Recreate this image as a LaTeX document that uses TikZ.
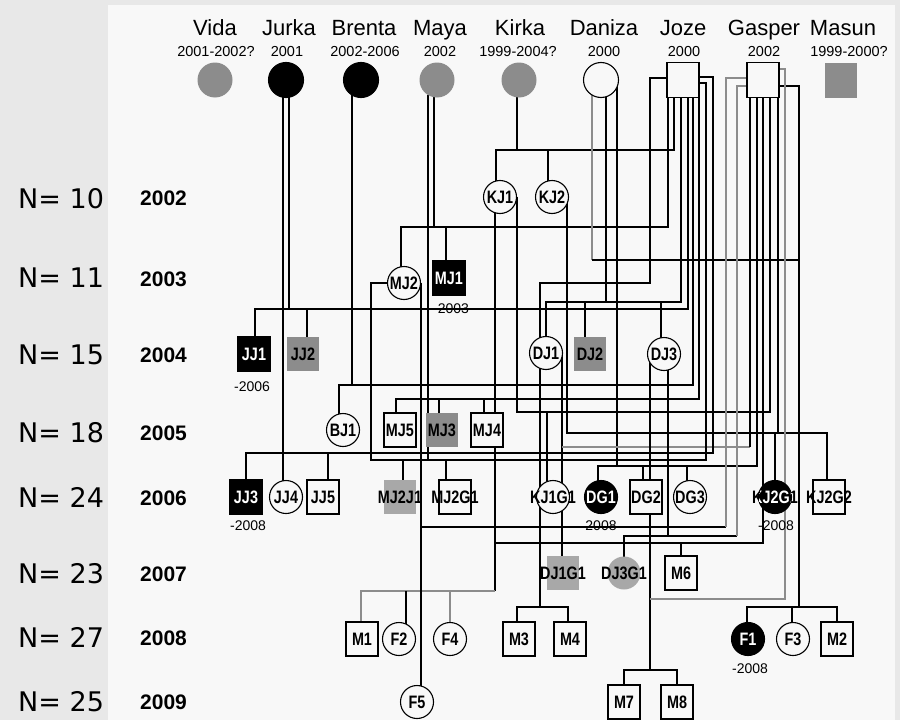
\documentclass[tikz,border=0pt]{standalone}
\usepackage{fontspec}
\setmainfont{Liberation Sans}
\newfontfamily\lab[FakeStretch=0.8]{Liberation Sans}
\newfontfamily\nfont{DejaVu Sans}
\definecolor{bgL}{HTML}{E8E8E8}
\definecolor{panel}{HTML}{F8F8F8}
\definecolor{gline}{HTML}{8C8C8C}
\definecolor{gfill}{HTML}{8C8C8C}
\definecolor{lfill}{HTML}{A8A8A8}
\tikzset{
 ln/.style={line width=1.2pt, black},
 gl/.style={line width=1.2pt, gline},
 sq/.style={rectangle, draw=black, line width=1.2pt, fill=panel, minimum width=32pt, minimum height=34pt, inner sep=0pt},
 ci/.style={circle, draw=black, line width=1.1pt, fill=panel, minimum size=33pt, inner sep=0pt},
 fci/.style={ci, minimum size=35pt},
 lbl/.style={font=\lab\bfseries\fontsize{18}{18}\selectfont, inner sep=0pt},
 lblw/.style={lbl, text=white},
 nm/.style={font=\fontsize{22}{22}\selectfont, anchor=base, inner sep=0pt},
 yr/.style={font=\fontsize{14.5}{14.5}\selectfont, anchor=base, inner sep=0pt},
 nl/.style={font=\nfont\fontsize{27}{27}\selectfont, anchor=base west, inner sep=0pt},
 rl/.style={font=\bfseries\fontsize{21}{21}\selectfont, anchor=base west, inner sep=0pt},
 dl/.style={font=\fontsize{14}{14}\selectfont, inner sep=0pt},
}
\begin{document}
\begin{tikzpicture}[x=1pt,y=-1pt]
\useasboundingbox (0,0) rectangle (900,720);
\fill[bgL] (0,0) rectangle (900,720);
\fill[panel] (108,5) rectangle (895,720);

% ---------- connectors ----------
% Jurka
\draw[ln] (283,95) -- (283,497);
\draw[ln] (289,95) -- (289,309);
\draw[ln] (255,354) |- (688,309) -- (688,97);
\draw[ln] (307,354) -- (307,309);
% Brenta x Joze
\draw[ln] (352,95) -- (352,385);
\draw[ln] (339,430) |- (693,385) -- (693,97);
% Maya x Joze
\draw[ln] (434,95) -- (434,227);
\draw[ln] (401,283) |- (668,227) -- (668,97);
\draw[ln] (446,278) -- (446,227);
\draw[ln] (428,95) -- (428,460);
\draw[ln] (396,430) |- (699,399) -- (699,97);
\draw[ln] (439,430) -- (439,399);
\draw[ln] (484,430) -- (484,399);
% Kirka x Joze
\draw[ln] (517,95) -- (517,150);
\draw[ln] (496,197) |- (674,150) -- (674,97);
\draw[ln] (548,197) -- (548,150);
% KJ1
\draw[ln] (495,197) -- (495,591);
\draw[gl] (495,591) -| (361,639);
\draw[ln] (406,591) -- (406,639);
\draw[gl] (450,591) -- (450,639);
\draw[ln] (517,197) |- (770,412) -- (770,97);
\draw[ln] (547,412) -- (547,497);
% KJ2 x Gasper
\draw[ln] (567,197) |- (827,433) -- (827,497);
\draw[ln] (775,433) -- (775,497);
\draw[ln] (778,97) -- (778,433);
\draw[ln] (779,86) -| (799,607);
\draw[ln] (747,639) |- (837,607) -- (837,639);
\draw[ln] (792,607) -- (792,639);
% Daniza
\draw[gl] (592,92) -- (592,260);
\draw[ln] (592,260) -- (799,260);
\draw[ln] (606,95) -- (606,302);
\draw[ln] (546,353) |- (681,302) -- (681,97);
\draw[ln] (585,354) -- (585,302);
\draw[ln] (661,354) -- (661,302);
\draw[ln] (617,80) -- (617,466);
\draw[ln] (598,497) |- (757,466) -- (757,97);
\draw[ln] (643,497) -- (643,466);
\draw[ln] (687,497) -- (687,466);
% Joze left
\draw[ln] (667,78) -| (650,283) -| (540,607);
\draw[ln] (517,639) |- (568,607) -- (568,639);
% DJ1 x Gasper
\draw[ln] (562,353) -- (562,573);
\draw[gl] (562,447) -- (750,447);
\draw[ln] (750,447) -- (750,97);
% DJ3 x Gasper
\draw[ln] (650,354) -- (650,670);
\draw[ln] (624,702) |- (677,670) -- (677,702);
\draw[gl] (650,599) -| (785,69) -- (779,69);
\draw[ln] (668,354) -- (668,536);
\draw[ln] (624,573) |- (737,536);
\draw[gl] (737,536) |- (747,86);
% MJ2 x Gasper
\draw[ln] (421,283) -- (421,702);
\draw[ln] (421,527) -- (726,527);
\draw[gl] (726,527) |- (747,78);
% M6
\draw[ln] (495,543) -- (763,543) -- (763,97);
\draw[ln] (681,543) -- (681,573);
% Joze right lines
\draw[ln] (699,77) -| (713,453) -- (246,453) -- (246,497);
\draw[ln] (328,453) -- (328,497);
\draw[ln] (699,83) -| (706,460) -- (371,460) |- (404,283);
\draw[ln] (403,460) -- (403,497);
\draw[ln] (446,460) -- (446,497);

% ---------- founders ----------
\node[fci,fill=gfill,draw=none] (Vida) at (215,80) {};
\node[fci,fill=black] (Jurka) at (286,80) {};
\node[fci,fill=black] (Brenta) at (361,80) {};
\node[fci,fill=gfill,draw=none] (Maya) at (437,80) {};
\node[fci,fill=gfill,draw=none] (Kirka) at (519,80) {};
\node[fci] (Daniza) at (601,80) {};
\node[sq,minimum height=35pt] (Joze) at (683,80) {};
\node[sq,minimum height=35pt] (Gasper) at (763,80) {};
\node[sq,minimum height=35pt,fill=gfill,draw=none] (Masun) at (841,80) {};

\node[nm] (tVida) at (215,35) {Vida};
\node[nm] (tJurka) at (289,35) {Jurka};
\node[nm] (tBrenta) at (364,35) {Brenta};
\node[nm] (tMaya) at (440,35) {Maya};
\node[nm] (tKirka) at (520,35) {Kirka};
\node[nm] (tDaniza) at (604,35) {Daniza};
\node[nm] (tJoze) at (683,35) {Joze};
\node[nm] (tGasper) at (764,35) {Gasper};
\node[nm] (tMasun) at (843,35) {Masun};

\node[yr] (yVida) at (216,56) {2001-2002?};
\node[yr] (yJurka) at (287,56) {2001};
\node[yr] (yBrenta) at (365,56) {2002-2006};
\node[yr] (yMaya) at (440,56) {2002};
\node[yr] (yKirka) at (518,56) {1999-2004?};
\node[yr] (yDaniza) at (604,56) {2000};
\node[yr] (yJoze) at (684,56) {2000};
\node[yr] (yGasper) at (764,56) {2002};
\node[yr] (yMasun) at (849,56) {1999-2000?};

% ---------- row labels ----------
\node[nl] (n02) at (18,208) {N= 10};
\node[nl] (n03) at (18,287) {N= 11};
\node[nl] (n04) at (18,364) {N= 15};
\node[nl] (n05) at (18,442) {N= 18};
\node[nl] (n06) at (18,507) {N= 24};
\node[nl] (n07) at (18,583) {N= 23};
\node[nl] (n08) at (18,647) {N= 27};
\node[nl] (n09) at (18,711) {N= 25};
\node[rl] (r02) at (140,205) {2002};
\node[rl] (r03) at (140,286) {2003};
\node[rl] (r04) at (140,362) {2004};
\node[rl] (r05) at (140,440) {2005};
\node[rl] (r06) at (140,505) {2006};
\node[rl] (r07) at (140,581) {2007};
\node[rl] (r08) at (140,645) {2008};
\node[rl] (r09) at (140,709) {2009};

% ---------- 2002 ----------
\node[ci,label={[lbl]center:KJ1}] (KJ1) at (500,197) {};
\node[ci,label={[lbl]center:KJ2}] (KJ2) at (552,197) {};
% ---------- 2003 ----------
\node[ci,label={[lbl]center:MJ2}] (MJ2) at (404,283) {};
\node[sq,fill=black,label={[lblw]center:MJ1}] (MJ1) at (449,278) {};
\node[dl] (dMJ1) at (451,309) {-2003};
% ---------- 2004 ----------
\node[sq,fill=black,label={[lblw]center:JJ1}] (JJ1) at (254,354) {};
\node[dl] (dJJ1) at (252,387) {-2006};
\node[sq,fill=gfill,draw=none,label={[lbl]center:JJ2}] (JJ2) at (303,354) {};
\node[ci,label={[lbl]center:DJ1}] (DJ1) at (546,353) {};
\node[sq,fill=gfill,draw=none,label={[lbl]center:DJ2}] (DJ2) at (590,354) {};
\node[ci,label={[lbl]center:DJ3}] (DJ3) at (664,354) {};
% ---------- 2005 ----------
\node[ci,label={[lbl]center:BJ1}] (BJ1) at (343,430) {};
\node[sq,label={[lbl]center:MJ5}] (MJ5) at (400,430) {};
\node[sq,fill=gfill,draw=none,label={[lbl]center:MJ3}] (MJ3) at (442,430) {};
\node[sq,label={[lbl]center:MJ4}] (MJ4) at (487,430) {};
% ---------- 2006 ----------
\node[sq,fill=black,label={[lblw]center:JJ3}] (JJ3) at (246,497) {};
\node[dl] (dJJ3) at (248,526) {-2008};
\node[ci,label={[lbl]center:JJ4}] (JJ4) at (286,497) {};
\node[sq,label={[lbl]center:JJ5}] (JJ5) at (323,497) {};
\node[sq,fill=lfill,draw=none,label={[lbl]center:MJ2J1}] (MJ2J1) at (400,497) {};
\node[sq,label={[lbl]center:MJ2G1}] (MJ2G1) at (455,497) {};
\node[ci,label={[lbl]center:KJ1G1}] (KJ1G1) at (553,497) {};
\node[ci,fill=black,label={[lblw]center:DG1}] (DG1) at (601,497) {};
\node[dl] (dDG1) at (601,526) {2008};
\node[sq,label={[lbl]center:DG2}] (DG2) at (646,497) {};
\node[ci,label={[lbl]center:DG3}] (DG3) at (690,497) {};
\node[ci,fill=black] (KJ2G1) at (775,497) {};
\node[lbl] (tKJ2G1) at (775,497) {KJ2G1};
\begin{scope}
\clip (775,497) circle (16.5);
\node[lblw] (wKJ2G1) at (775,497) {KJ2G1};
\end{scope}
\node[dl] (dKJ2G1) at (776,526) {-2008};
\node[sq,label={[lbl]center:KJ2G2}] (KJ2G2) at (829,497) {};
% ---------- 2007 ----------
\node[sq,fill=lfill,draw=none,label={[lbl]center:DJ1G1}] (DJ1G1) at (563,573) {};
\node[ci,fill=lfill,draw=none,label={[lbl]center:DJ3G1}] (DJ3G1) at (624,573) {};
\node[sq,label={[lbl]center:M6}] (M6) at (681,573) {};
% ---------- 2008 ----------
\node[sq,label={[lbl]center:M1}] (M1) at (362,639) {};
\node[ci,label={[lbl]center:F2}] (F2) at (399,639) {};
\node[ci,label={[lbl]center:F4}] (F4) at (450,639) {};
\node[sq,label={[lbl]center:M3}] (M3) at (519,639) {};
\node[sq,label={[lbl]center:M4}] (M4) at (570,639) {};
\node[ci,fill=black,label={[lblw]center:F1}] (F1) at (748,639) {};
\node[dl] (dF1) at (750,669) {-2008};
\node[ci,label={[lbl]center:F3}] (F3) at (793,639) {};
\node[sq,label={[lbl]center:M2}] (M2) at (837,639) {};
% ---------- 2009 ----------
\node[ci,label={[lbl]center:F5}] (F5) at (417,702) {};
\node[sq,label={[lbl]center:M7}] (M7) at (624,702) {};
\node[sq,label={[lbl]center:M8}] (M8) at (677,702) {};
\end{tikzpicture}
\end{document}
